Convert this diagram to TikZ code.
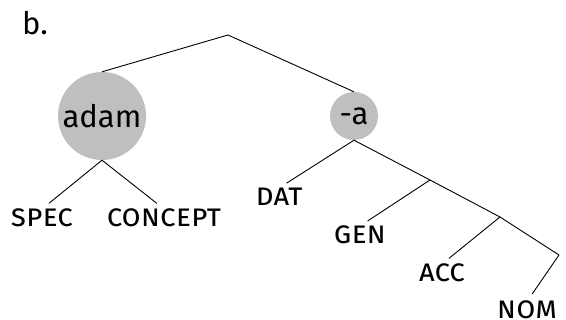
\documentclass[tikz,border=0pt]{standalone}
\usepackage{fontspec}
\setmainfont{Fira Sans}
\begin{document}
\begin{tikzpicture}[x=1pt,y=-1pt,
  edge/.style={draw=black, line width=0.9pt},
  leaf/.style={edge, shorten >=9pt},
  morph/.style={circle, fill=black!25, inner sep=0pt, font=\fontsize{31}{36}\selectfont},
  feat/.style={anchor=north, inner sep=0pt, text height=17pt, text depth=0pt, font=\fontsize{31}{36}\selectfont\scshape}]
\useasboundingbox (0,0) rectangle (566,320);
\node[anchor=base west, inner sep=0pt, font=\fontsize{31}{36}\selectfont] (lab) at (22,35) {b.};
\coordinate (root) at (228,35);
\node[morph, minimum size=88pt] (adam) at (102,116) {adam};
\node[morph, minimum size=48pt] (a) at (354,116) {-a};
\coordinate (j1) at (430,180);
\coordinate (j2) at (500,217);
\coordinate (j3) at (559,255);
\node[feat] (spec) at (42,209) {spec};
\node[feat] (concept) at (164,209) {concept};
\node[feat] (dat) at (279,188) {dat};
\node[feat] (gen) at (360,226) {gen};
\node[feat] (acc) at (442,264) {acc};
\node[feat] (nom) at (527,301.5) {nom};
\path[edge] (adam.north) -- (root) -- (a.north);
\path[edge] (a.south) -- (j1) -- (j2) -- (j3);
\path[leaf] (adam.south) -- (spec.north);
\path[leaf] (adam.south) -- (concept.north);
\path[leaf] (a.south) -- (dat.north);
\path[leaf] (j1) -- (gen.north);
\path[leaf] (j2) -- (acc.north);
\path[leaf] (j3) -- (nom.north);
\end{tikzpicture}
\end{document}
